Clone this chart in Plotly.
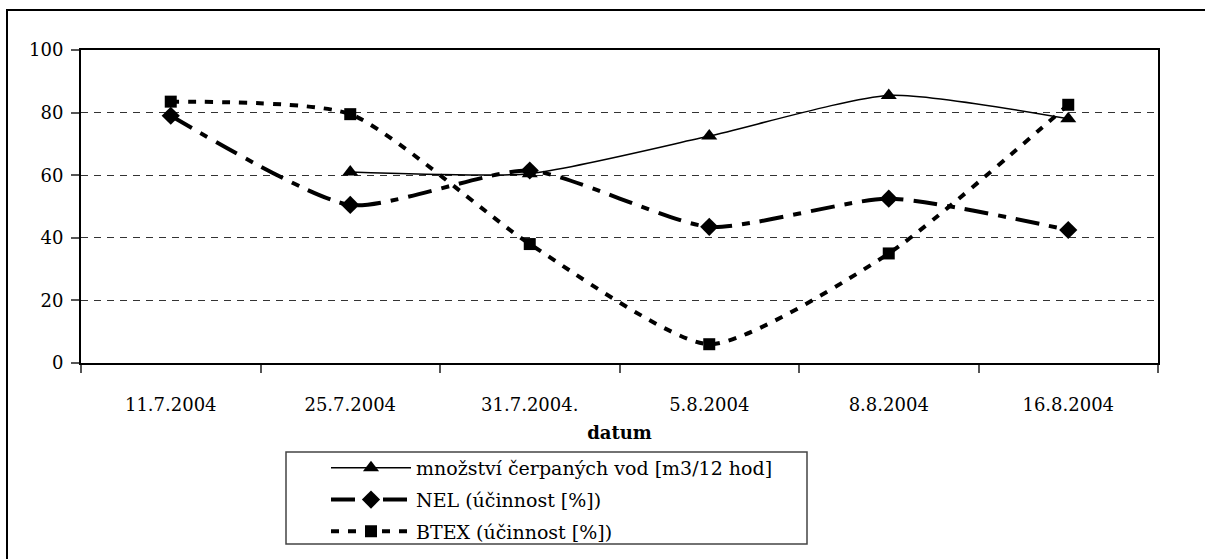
import plotly.graph_objects as go

categories = ["11.7.2004", "25.7.2004", "31.7.2004.", "5.8.2004", "8.8.2004", "16.8.2004"]
mnozstvi = [None, 61, 60.5, 72.5, 85.5, 78]
nel = [79, 50.5, 61.5, 43.5, 52.5, 42.5]
btex = [83.5, 79.5, 38, 6, 35, 82.5]
y_ticks = [0, 20, 40, 60, 80, 100]

FONT = "DejaVu Serif"
FS = 18

fig = go.Figure()
fig.add_trace(go.Scatter(
    x=categories, y=mnozstvi, name="množství čerpaných vod [m3/12 hod]", legendgroup="a",
    mode="lines+markers", line=dict(color="black", width=1.5, shape="spline", smoothing=0.6),
    marker=dict(symbol="triangle-up", size=14, color="black"), connectgaps=False))
fig.add_trace(go.Scatter(
    x=categories, y=nel, name="NEL (účinnost [%])", legendgroup="b",
    mode="lines+markers",
    line=dict(color="black", width=4, shape="spline", smoothing=0.6, dash="24px,10px,8px,10px"),
    marker=dict(symbol="diamond", size=14, color="black")))
fig.add_trace(go.Scatter(
    x=categories, y=btex, name="BTEX (účinnost [%])", legendgroup="c",
    mode="lines+markers",
    line=dict(color="black", width=4, shape="spline", smoothing=0.6, dash="8px,9px"),
    marker=dict(symbol="square", size=12, color="black")))

L, R, T, B = 81, 1158, 50, 363
W, H = 1205, 559
pw, ph = R - L, B - T

def px_x(v):
    return (v - L) / pw

def px_y(v):
    return (B - v) / ph

fig.update_layout(
    width=W, height=H,
    margin=dict(l=L, r=W - R, t=T, b=H - B, autoexpand=False),
    paper_bgcolor="white", plot_bgcolor="white",
    font=dict(family=FONT, size=FS, color="black"),
    showlegend=True,
    legend=dict(
        x=px_x(326), y=px_y(449), xanchor="left", yanchor="top",
        borderwidth=0, bgcolor="rgba(0,0,0,0)",
        font=dict(family=FONT, size=19, color="black"),
        itemwidth=80, tracegroupgap=4,
    ),
    xaxis=dict(
        type="category", tickmode="array", tickvals=categories, ticktext=categories,
        tickson="boundaries", ticks="outside", ticklen=8, tickcolor="#555", tickwidth=1.5,
        showline=True, linecolor="black", linewidth=2, mirror=True,
        showgrid=False, range=[-0.5, 5.5], ticklabelstandoff=24, automargin=False,
        title=dict(text="<b>datum</b>", font=dict(family=FONT, size=FS, color="black"), standoff=13),
        tickfont=dict(family=FONT, size=FS, color="black"),
    ),
    yaxis=dict(
        range=[0, 100], tickmode="array", tickvals=y_ticks,
        ticks="outside", ticklen=8, tickcolor="#555", tickwidth=1.5,
        showline=True, linecolor="black", linewidth=2, mirror=True,
        showgrid=True, gridcolor="#333", gridwidth=1, griddash="7px,6px",
        zeroline=False, ticklabelstandoff=4, automargin=False,
        tickfont=dict(family=FONT, size=FS, color="black"),
    ),
)

# outer chart border
fig.add_shape(type="rect", xref="paper", yref="paper",
              x0=px_x(7), x1=px_x(1212), y0=px_y(580), y1=px_y(10),
              line=dict(color="black", width=2), layer="below")
# legend frame
fig.add_shape(type="rect", xref="paper", yref="paper",
              x0=px_x(286), x1=px_x(807), y0=px_y(544), y1=px_y(452),
              line=dict(color="#444", width=1.5), layer="below")

fig.write_html("out.html")
